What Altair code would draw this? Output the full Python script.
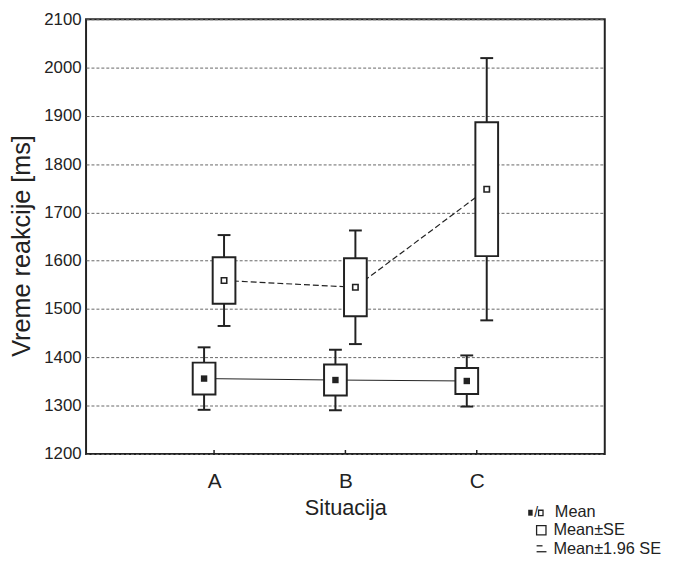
import altair as alt
import pandas as pd

# ---- data ----
categories = ["A", "B", "C"]
mean_solid = [1356, 1353, 1351]
se_solid = [33, 32, 27]
mean_dashed = [1559, 1545, 1748]
se_dashed = [48, 60, 138.5]
y_ticks = [1200, 1300, 1400, 1500, 1600, 1700, 1800, 1900, 2000, 2100]
legend_labels = ["Mean", "Mean\u00b1SE", "Mean\u00b11.96 SE"]

FONT = "Liberation Sans"
INK = "#222222"
OFFSET = 0.076

rows = []
for i, c in enumerate(categories):
    rows.append(dict(cat=c, series="solid", xpos=i + 1 - OFFSET,
                     mean=mean_solid[i], se=se_solid[i]))
    rows.append(dict(cat=c, series="dashed", xpos=i + 1 + OFFSET,
                     mean=mean_dashed[i], se=se_dashed[i]))
df = pd.DataFrame(rows)

label_expr = " : ".join(
    [f"datum.value == {i + 1} ? '{c}'" for i, c in enumerate(categories)]) + " : ''"

xscale = alt.Scale(domain=[0.063, 3.937], nice=False, zero=False)
yscale = alt.Scale(domain=[1200, 2100], nice=False, zero=False)

xaxis = alt.Axis(values=[1, 2, 3], labelExpr=label_expr, grid=False, ticks=False,
                 domain=False, labelFontSize=21, labelPadding=17, labelColor=INK,
                 title="Situacija", titleFontSize=22, titleFontWeight="normal",
                 titleColor=INK, titlePadding=6)
yaxis = alt.Axis(values=y_ticks, format="d", grid=True, gridColor="#666666",
                 gridDash=[3, 2], gridWidth=1, ticks=False, domain=False,
                 labelFontSize=17, labelPadding=5, labelColor=INK,
                 title="Vreme reakcije [ms]", titleFontSize=25.5,
                 titleFontWeight="normal", titleColor=INK, titleAngle=-90,
                 titleX=-65, titleY=229, titleAlign="center", titleBaseline="middle")

X = alt.X("xpos:Q", scale=xscale, axis=xaxis)
base = alt.Chart(df).transform_calculate(
    lo="datum.mean - datum.se",
    hi="datum.mean + datum.se",
    wlo="datum.mean - 1.96 * datum.se",
    whi="datum.mean + 1.96 * datum.se",
)

line_solid = base.transform_filter("datum.series == 'solid'").mark_line(
    color=INK, strokeWidth=1).encode(x=X, y=alt.Y("mean:Q", scale=yscale, axis=yaxis))
line_dashed = base.transform_filter("datum.series == 'dashed'").mark_line(
    color=INK, strokeWidth=1.2, strokeDash=[6, 3]).encode(
    x=X, y=alt.Y("mean:Q", scale=yscale, axis=yaxis))

whisk = base.mark_rule(color=INK, strokeWidth=2).encode(
    x=X, y=alt.Y("wlo:Q", scale=yscale, axis=yaxis), y2="whi:Q")
cap_lo = base.mark_tick(orient="horizontal", size=13, thickness=2, color=INK,
                        opacity=1).encode(x=X, y=alt.Y("wlo:Q", scale=yscale, axis=yaxis))
cap_hi = base.mark_tick(orient="horizontal", size=13, thickness=2, color=INK,
                        opacity=1).encode(x=X, y=alt.Y("whi:Q", scale=yscale, axis=yaxis))
boxes = base.mark_bar(size=23, fill="white", stroke=INK, strokeWidth=2).encode(
    x=X, y=alt.Y("lo:Q", scale=yscale, axis=yaxis), y2="hi:Q")

m_solid = base.transform_filter("datum.series == 'solid'").mark_square(
    size=42, color=INK, opacity=1, filled=True).encode(
    x=X, y=alt.Y("mean:Q", scale=yscale, axis=yaxis))
m_dashed = base.transform_filter("datum.series == 'dashed'").mark_square(
    size=30, fill="white", stroke=INK, strokeWidth=1.6, opacity=1, filled=True).encode(
    x=X, y=alt.Y("mean:Q", scale=yscale, axis=yaxis))

ticks_df = pd.DataFrame({"xpos": [1, 2, 3]})
inner_ticks = alt.Chart(ticks_df).mark_rule(color=INK, strokeWidth=1.5).encode(
    x=X, y=alt.value(440), y2=alt.value(436))

# ---- custom legend below the plot, right side ----
one = pd.DataFrame({"k": [0]})
lg = []
lg.append(alt.Chart(one).mark_rect(color=INK).encode(
    x=alt.value(447.5), x2=alt.value(452), y=alt.value(496.5), y2=alt.value(502.5)))
lg.append(alt.Chart(one).mark_text(text="/", font=FONT, fontSize=14, color=INK,
                                   baseline="middle").encode(
    x=alt.value(455.5), y=alt.value(499.5)))
lg.append(alt.Chart(one).mark_rect(fill="white", stroke=INK, strokeWidth=1.3).encode(
    x=alt.value(458), x2=alt.value(462.5), y=alt.value(497), y2=alt.value(502.5)))
lg.append(alt.Chart(one).mark_rect(fill="white", stroke=INK, strokeWidth=1.3).encode(
    x=alt.value(456), x2=alt.value(465.5), y=alt.value(512.5), y2=alt.value(522)))
lg.append(alt.Chart(one).mark_rule(color=INK, strokeWidth=1.3).encode(
    x=alt.value(456), x2=alt.value(462), y=alt.value(533)))
lg.append(alt.Chart(one).mark_rule(color=INK, strokeWidth=1.3).encode(
    x=alt.value(456), x2=alt.value(466), y=alt.value(539)))
for lab, yy, xx in zip(legend_labels, [499, 517, 536], [474.5, 473, 473]):
    lg.append(alt.Chart(one).mark_text(text=lab, font=FONT, fontSize=16.5, color=INK,
                                       align="left", baseline="middle").encode(
        x=alt.value(xx), y=alt.value(yy)))

chart = alt.layer(
    line_solid, line_dashed, whisk, cap_lo, cap_hi, boxes, m_solid, m_dashed,
    inner_ticks, *lg
).properties(
    width=525, height=440,
    autosize=alt.AutoSizeParams(type="none"),
    padding={"left": 79, "top": 8, "right": 64, "bottom": 102},
).configure(font=FONT).configure_view(stroke=INK, strokeWidth=2)

chart.save("out.html", embed_options={"renderer": "svg", "actions": False})
